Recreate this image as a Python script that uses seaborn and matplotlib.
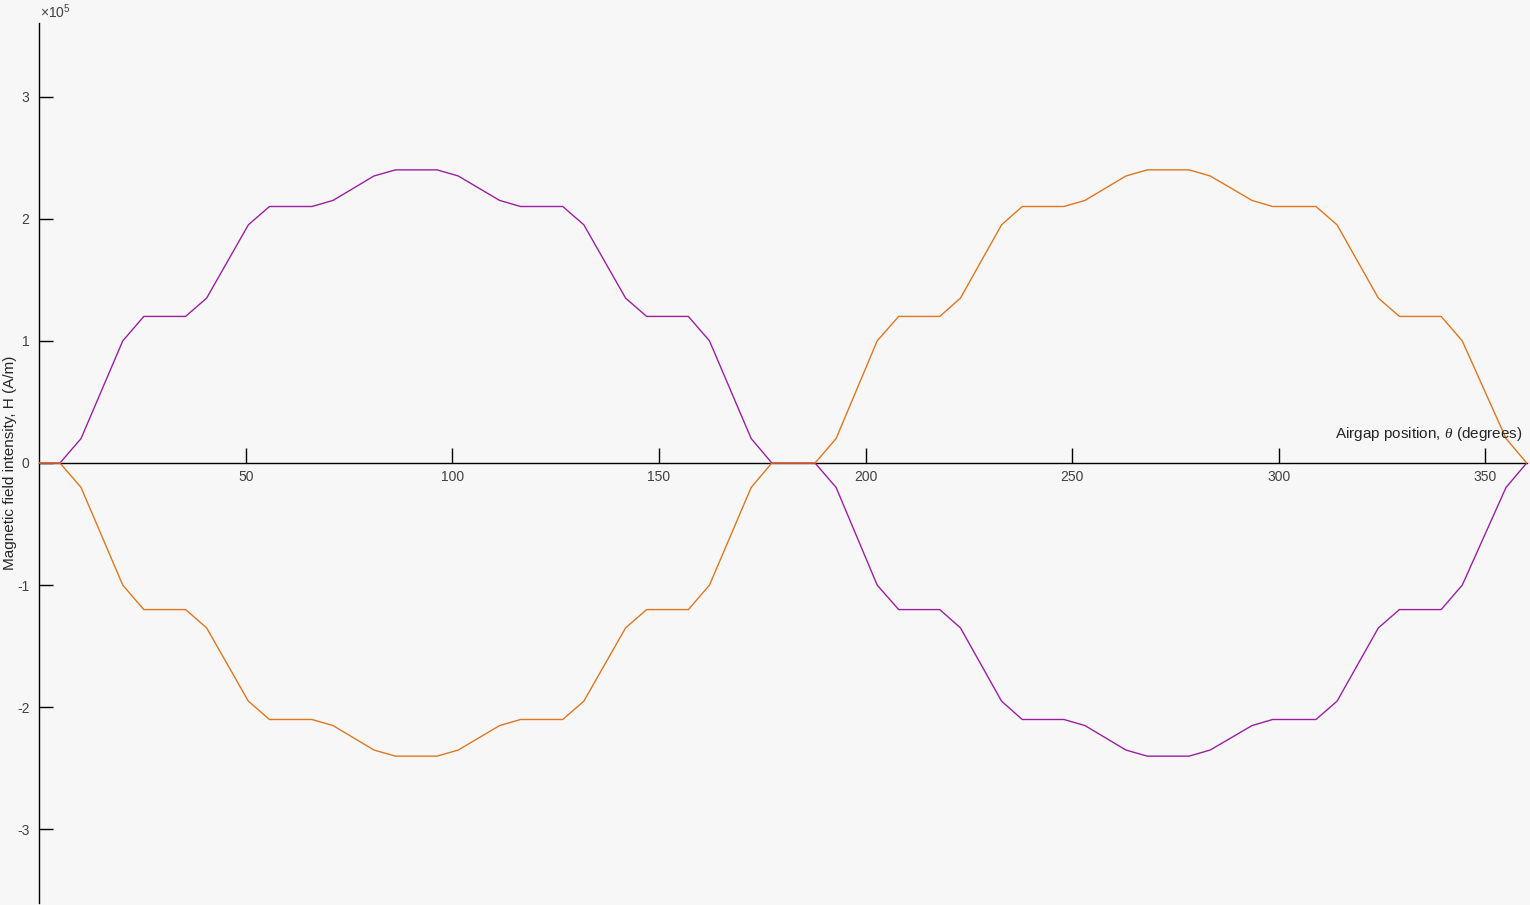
import matplotlib
matplotlib.use("Agg")
import matplotlib.pyplot as plt
from matplotlib.ticker import FuncFormatter
import numpy as np
import pandas as pd
import seaborn as sns

# ---- data ----
theta_deg = [0.0, 5.0, 10.1, 20.2, 25.3, 35.4, 40.5, 50.6, 55.7, 66.0, 71.1,
             81.0, 86.2, 96.3, 101.4, 111.4, 116.5, 126.7, 131.8, 141.9, 147.0,
             157.1, 162.2, 172.3, 177.3,
             187.75, 192.85, 202.8, 208.0, 217.95, 222.95, 232.9, 237.9, 248.0,
             253.1, 263.0, 268.15, 278.3, 283.4, 293.5, 298.5, 309.0, 314.1,
             324.1, 329.2, 339.3, 344.4, 355.0, 360.0]

H_purple = [0, 0, 0.2e5, 1.0e5, 1.2e5, 1.2e5, 1.35e5, 1.95e5, 2.1e5, 2.1e5, 2.15e5,
            2.35e5, 2.4e5, 2.4e5, 2.35e5, 2.15e5, 2.1e5, 2.1e5, 1.95e5, 1.35e5, 1.2e5,
            1.2e5, 1.0e5, 0.2e5, 0,
            0, -0.2e5, -1.0e5, -1.2e5, -1.2e5, -1.35e5, -1.95e5, -2.1e5, -2.1e5,
            -2.15e5, -2.35e5, -2.4e5, -2.4e5, -2.35e5, -2.15e5, -2.1e5, -2.1e5, -1.95e5,
            -1.35e5, -1.2e5, -1.2e5, -1.0e5, -0.2e5, 0]

H_orange = [0, 0, -0.2e5, -1.0e5, -1.2e5, -1.2e5, -1.35e5, -1.95e5, -2.1e5, -2.1e5, -2.15e5,
            -2.35e5, -2.4e5, -2.4e5, -2.35e5, -2.15e5, -2.1e5, -2.1e5, -1.95e5, -1.35e5, -1.2e5,
            -1.2e5, -1.0e5, -0.2e5, 0,
            0, 0.2e5, 1.0e5, 1.2e5, 1.2e5, 1.35e5, 1.95e5, 2.1e5, 2.1e5,
            2.15e5, 2.35e5, 2.4e5, 2.4e5, 2.35e5, 2.15e5, 2.1e5, 2.1e5, 1.95e5,
            1.35e5, 1.2e5, 1.2e5, 1.0e5, 0.2e5, 0]

x_ticks = [50, 100, 150, 200, 250, 300, 350]
y_ticks = [-3e5, -2e5, -1e5, 0, 1e5, 2e5, 3e5]
y_scale = 1e5

purple = "#9C1FA3"
orange = "#E0761F"
bg = "#F7F7F7"

# ---- style ----
sns.set_theme(style="white")
plt.rcParams["font.family"] = ["Liberation Sans", "DejaVu Sans"]
plt.rcParams["axes.unicode_minus"] = False
plt.rcParams["mathtext.fontset"] = "custom"
plt.rcParams["mathtext.rm"] = "Liberation Sans"
plt.rcParams["mathtext.it"] = "Liberation Serif:italic"

df = pd.concat([
    pd.DataFrame({"theta": theta_deg, "H": H_purple, "series": "A"}),
    pd.DataFrame({"theta": theta_deg, "H": H_orange, "series": "B"}),
], ignore_index=True)

fig = plt.figure(figsize=(15.3, 9.05), dpi=100, facecolor=bg)
ax = fig.add_axes([39.3 / 1530, 2.3 / 905, 1487.4 / 1530, 879.4 / 905])
ax.set_facecolor(bg)

sns.lineplot(data=df, x="theta", y="H", hue="series", palette=[purple, orange],
             sort=False, estimator=None, linewidth=1.0, legend=False, ax=ax)

ax.set_xlim(0, 360)
ax.set_ylim(-3.6e5, 3.6e5)

# axis lines: x-axis through y=0, y-axis at left
for s in ["top", "right"]:
    ax.spines[s].set_visible(False)
ax.spines["bottom"].set_position(("data", 0))
for s in ["bottom", "left"]:
    ax.spines[s].set_color("black")
    ax.spines[s].set_linewidth(1.0)
    ax.spines[s].set_zorder(1)

ax.set_xticks(x_ticks)
ax.set_yticks(y_ticks)
ax.tick_params(axis="x", direction="in", length=10.5, width=1.0, color="black",
               pad=5, labelsize=10, labelcolor="#404040", bottom=True)
ax.tick_params(axis="y", direction="in", length=10.0, width=1.0, color="black",
               pad=7, labelsize=10, labelcolor="#404040", left=True)

ax.yaxis.set_major_formatter(FuncFormatter(lambda v, p: f"{v / y_scale:g}"))

ax.set_xlabel("")
ax.set_ylabel("")
fig.text(40 / 1530, (905 - 18) / 905, r"$\mathregular{\times 10^{5}}$",
         ha="left", va="baseline", fontsize=10, color="#404040")
fig.text(10 / 1530, (905 - 463) / 905, "Magnetic field intensity, H (A/m)",
         rotation=90, ha="center", va="center", fontsize=11, color="#262626")
fig.text(1522 / 1530, (905 - 434) / 905, r"Airgap position, $\theta$ (degrees)",
         ha="right", va="center", fontsize=11, color="#262626")

fig.savefig("out.png", dpi=100, facecolor=bg)
